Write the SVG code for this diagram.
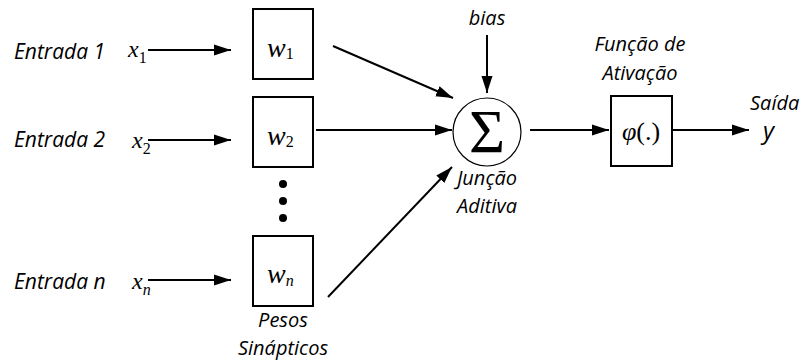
<svg xmlns="http://www.w3.org/2000/svg" width="804" height="364" viewBox="0 0 804 364">
<style>
.lbl{font-family:"Open Sans","Noto Sans",sans-serif;font-style:italic;font-size:20px;fill:#000}
.in{font-size:21px}
.math{font-family:"Liberation Serif","Times New Roman",serif;font-style:italic;fill:#000}
.box{fill:#fff;stroke:#000;stroke-width:2}
.ln{stroke:#000;stroke-width:2;fill:none;marker-end:url(#ah)}
</style>
<defs>
<marker id="ah" markerUnits="userSpaceOnUse" markerWidth="18" markerHeight="12" refX="17" refY="6" orient="auto">
<path d="M0,0.5 L17,6 L0,11.5 Z" fill="#000"/>
</marker>
</defs>
<rect width="804" height="364" fill="#fff"/>

<g id="connectors">
<line class="ln" x1="148" y1="50" x2="231" y2="50"/>
<line class="ln" x1="148" y1="140" x2="231" y2="140"/>
<line class="ln" x1="148" y1="280" x2="231" y2="280"/>
<line class="ln" x1="333" y1="46" x2="453" y2="98"/>
<line class="ln" x1="316" y1="130" x2="452" y2="130"/>
<line class="ln" x1="328" y1="297" x2="452" y2="167"/>
<line class="ln" x1="487" y1="35" x2="487" y2="93"/>
<line class="ln" x1="530" y1="130" x2="609" y2="130"/>
<line class="ln" x1="673" y1="130" x2="749" y2="130"/>
</g>

<g id="in1">
<text class="lbl in" x="14" y="59">Entrada 1</text>
<text class="math" x="128" y="57" font-size="24">x<tspan font-style="normal" font-size="16" dy="6">1</tspan></text>
</g>
<g id="in2">
<text class="lbl in" x="14" y="147">Entrada 2</text>
<text class="math" x="132" y="148" font-size="24">x<tspan font-style="normal" font-size="16" dy="6">2</tspan></text>
</g>
<g id="inn">
<text class="lbl in" x="14" y="289">Entrada n</text>
<text class="math" x="132" y="289" font-size="24">x<tspan font-size="16" dy="6">n</tspan></text>
</g>

<g id="w1">
<rect class="box" x="253" y="9" width="60" height="70"/>
<text class="math" x="267" y="57" font-size="28">w<tspan font-style="normal" font-size="16" dy="2">1</tspan></text>
</g>
<g id="w2">
<rect class="box" x="253" y="97" width="60" height="70"/>
<text class="math" x="267" y="145" font-size="28">w<tspan font-style="normal" font-size="16" dy="2">2</tspan></text>
</g>
<g id="dots">
<circle cx="283" cy="184" r="4"/>
<circle cx="283" cy="201" r="4"/>
<circle cx="283" cy="218" r="4"/>
</g>
<g id="wn">
<rect class="box" x="253" y="236" width="60" height="70"/>
<text class="math" x="267" y="283" font-size="28">w<tspan font-size="16" dy="3">n</tspan></text>
</g>
<g id="pesos">
<text class="lbl" x="283" y="327" text-anchor="middle">Pesos</text>
<text class="lbl" x="283" y="355" text-anchor="middle">Sinápticos</text>
</g>

<g id="bias">
<text class="lbl" x="487" y="25" text-anchor="middle">bias</text>
</g>
<g id="sum">
<circle cx="487" cy="132" r="34" fill="#fff" stroke="#000" stroke-width="1.2"/>
<text x="487" y="152" text-anchor="middle" font-family="Liberation Serif,Times New Roman,serif" font-size="62">Σ</text>
<text class="lbl" x="487" y="185" text-anchor="middle">Junção</text>
<text class="lbl" x="487" y="213" text-anchor="middle">Aditiva</text>
</g>

<g id="act">
<text class="lbl" x="640" y="51" text-anchor="middle">Função de</text>
<text class="lbl" x="640" y="80" text-anchor="middle">Ativação</text>
<rect class="box" x="611" y="96" width="61" height="70"/>
<text class="math" x="641" y="140" text-anchor="middle" font-size="26">φ<tspan font-style="normal">(.)</tspan></text>
</g>

<g id="out">
<text class="lbl" x="750" y="110">Saída</text>
<text class="lbl" x="763" y="139" style="font-size:24px">y</text>
</g>
</svg>
